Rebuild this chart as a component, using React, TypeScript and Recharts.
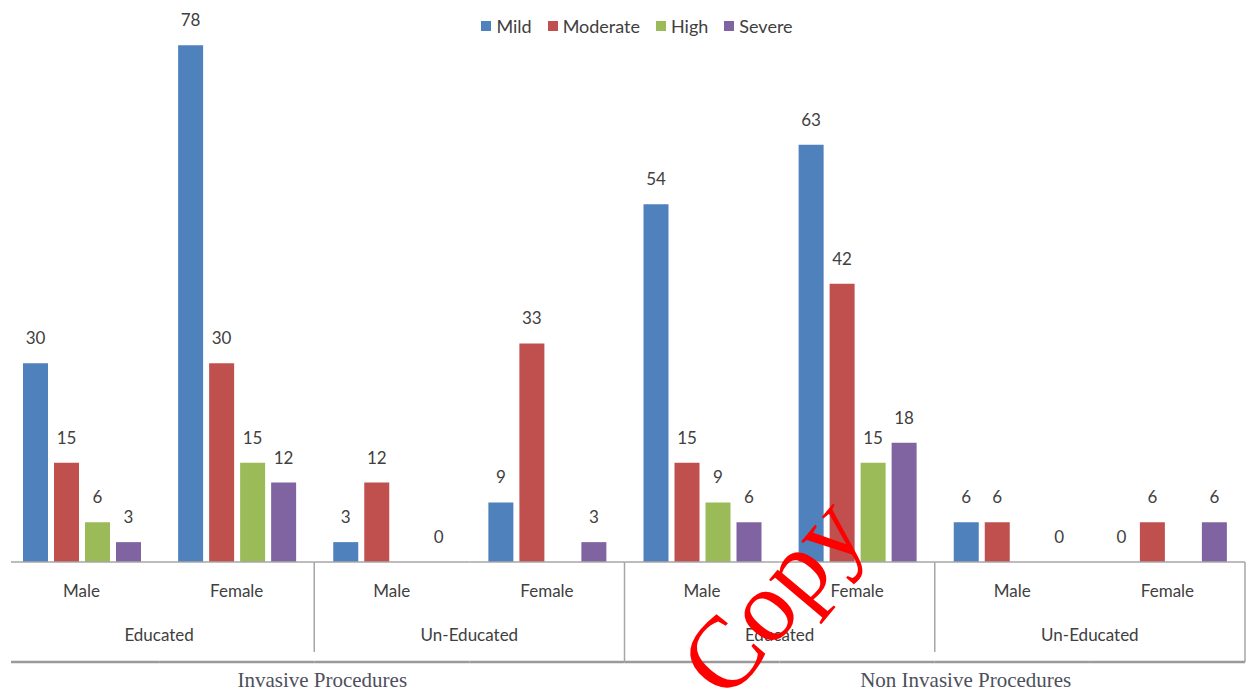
import React from "react";
import { BarChart, Bar, XAxis, YAxis, LabelList } from "recharts";

// categories, innermost level first
const genders = ["Male", "Female", "Male", "Female", "Male", "Female", "Male", "Female"];
const education = ["Educated", "Un-Educated", "Educated", "Un-Educated"];
const procedures = ["Invasive Procedures", "Non Invasive Procedures"];

// series values, one per category (null = not plotted)
const mild = [30, 78, 3, 9, 54, 63, 6, 0];
const moderate = [15, 30, 12, 33, 15, 42, 6, 6];
const high = [6, 15, null, null, 9, 15, null, null];
const severe = [3, 12, 0, 3, 6, 18, 0, 6];

const series = [
  { key: "mild", name: "Mild", color: "#4F81BD" },
  { key: "moderate", name: "Moderate", color: "#C0504D" },
  { key: "high", name: "High", color: "#9BBB59" },
  { key: "severe", name: "Severe", color: "#8064A2" },
];

const data = genders.map((g, i) => ({
  id: i,
  gender: g,
  mild: mild[i],
  moderate: moderate[i],
  high: high[i],
  severe: severe[i],
}));

const LABEL_FONT = "Lato, 'Open Sans', sans-serif";
const AXIS_Y = 562;
const LINE = "#a6a6a6";

function MultiTick(props: any) {
  const { x, payload, index } = props;
  const half = payload.offset ?? 77.5;
  const left = x - half;
  const right = x + half;
  const out: React.ReactNode[] = [];

  // baseline and bottom rule, one segment per category
  out.push(<line key="top" x1={index === 0 ? left + 7 : left} x2={right} y1={AXIS_Y} y2={AXIS_Y} stroke={LINE} strokeWidth={1.5} />);
  out.push(<line key="bot" x1={index === 0 ? left + 7 : left} x2={right} y1={662} y2={662} stroke="#9a9a9a" strokeWidth={2.5} />);

  out.push(
    <text key="g" x={x} y={AXIS_Y + 35} textAnchor="middle" fontSize={17} fill="#404040" fontFamily={LABEL_FONT}>
      {genders[index]}
    </text>
  );

  if (index % 2 === 1) {
    out.push(
      <text key="e" x={left} y={AXIS_Y + 79} textAnchor="middle" fontSize={17} fill="#404040" fontFamily={LABEL_FONT}>
        {education[(index - 1) / 2]}
      </text>
    );
    const major = index % 4 === 3;
    out.push(<line key="sep" x1={right} x2={right} y1={AXIS_Y} y2={major ? 662 : 652} stroke={LINE} strokeWidth={1.5} />);
  }

  if (index % 4 === 1) {
    const p = (index - 1) / 4;
    out.push(
      <text key="p" x={right + (p === 0 ? 8 : 31)} y={AXIS_Y + 125} textAnchor="middle" fontSize={21} fill="#4d4f5c" fontFamily="'Liberation Serif', 'DejaVu Serif', serif">
        {procedures[p]}
      </text>
    );
  }
  return <g>{out}</g>;
}

function LegendRow() {
  return (
    <div style={{ position: "absolute", top: 15, left: 0, width: 1248, display: "flex", justifyContent: "center", paddingLeft: 42, boxSizing: "border-box" }}>
      {series.map(s => (
        <div key={s.key} style={{ display: "flex", alignItems: "center", marginRight: 16, fontFamily: LABEL_FONT, fontSize: 18, color: "#404040" }}>
          <span style={{ width: 10, height: 10, background: s.color, display: "inline-block", marginRight: 5 }} />
          {s.name}
        </div>
      ))}
    </div>
  );
}

export default function App() {
  return (
    <div style={{ position: "absolute", left: 0, top: 0, width: 1248, height: 692, background: "#fff" }}>
      <BarChart width={1248} height={692} data={data} margin={{ top: 32, right: 3, bottom: 0, left: 4 }} barSize={25} barGap={6}>
        <XAxis
          dataKey="id"
          height={130}
          interval={0}
          axisLine={false}
          tickLine={false}
          tickSize={0}
          tickMargin={0}
          tick={<MultiTick />}
        />
        <YAxis hide domain={[0, 80]} />
        {series.map(s => (
          <Bar
            key={s.key}
            dataKey={s.key}
            name={s.name}
            fill={s.color}
            minPointSize={(v: any) => (v === 0 ? 0.01 : 0)}
            isAnimationActive={false}
          >
            <LabelList
              dataKey={s.key}
              position="top"
              offset={19}
              fontSize={17}
              fill="#404040"
              fontFamily={LABEL_FONT}
            />
          </Bar>
        ))}
      </BarChart>
      <LegendRow />
      {/* red watermark drawn over the bars */}
      <svg width={1248} height={692} style={{ position: "absolute", left: 0, top: 0, pointerEvents: "none" }}>
        <text
          x={798}
          y={618}
          textAnchor="middle"
          fontSize={102}
          fill="#ff0000"
          fontFamily="'Liberation Serif', serif"
          transform="rotate(-50 798 618)"
        >
          Copy
        </text>
      </svg>
    </div>
  );
}
